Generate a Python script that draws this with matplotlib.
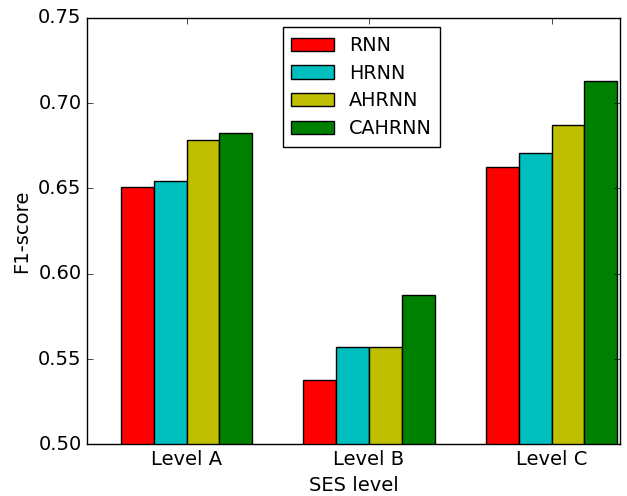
import numpy as np
import matplotlib
matplotlib.use("Agg")
import matplotlib.pyplot as plt

plt.style.use("classic")
plt.rcParams["font.size"] = 14

levels = ["Level A", "Level B", "Level C"]
models = ["RNN", "HRNN", "AHRNN", "CAHRNN"]
colors = ["r", "c", "y", "g"]

rnn = [0.6506, 0.5375, 0.6625]
hrnn = [0.6543, 0.5570, 0.6710]
ahrnn = [0.6785, 0.5570, 0.6870]
cahrnn = [0.6826, 0.5876, 0.7130]
scores = [rnn, hrnn, ahrnn, cahrnn]

fig = plt.figure(figsize=(6.27, 4.96), dpi=100)
ax = fig.add_axes([0.139, 0.104, 0.850, 0.860])

ind = np.arange(len(levels))
width = 0.18
for i, (name, vals) in enumerate(zip(models, scores)):
    ax.bar(ind + (i - 1.5) * width, vals, width, color=colors[i], label=name,
           edgecolor="k", linewidth=1)

ax.set_xticks(ind)
ax.set_xticklabels(levels)
ax.set_xlim(-0.545, 2.376)
ax.set_ylim(0.50, 0.75)
ax.set_yticks(np.arange(0.50, 0.751, 0.05))
ax.yaxis.set_major_formatter(matplotlib.ticker.FormatStrFormatter("%.2f"))
ax.set_xlabel("SES level")
ax.set_ylabel("F1-score")
ax.legend(loc="upper center", bbox_to_anchor=(0.515, 1.0), fontsize=13.8,
          handlelength=2.2, labelspacing=0.45, borderpad=0.45)

fig.savefig("out.png", dpi=100)
